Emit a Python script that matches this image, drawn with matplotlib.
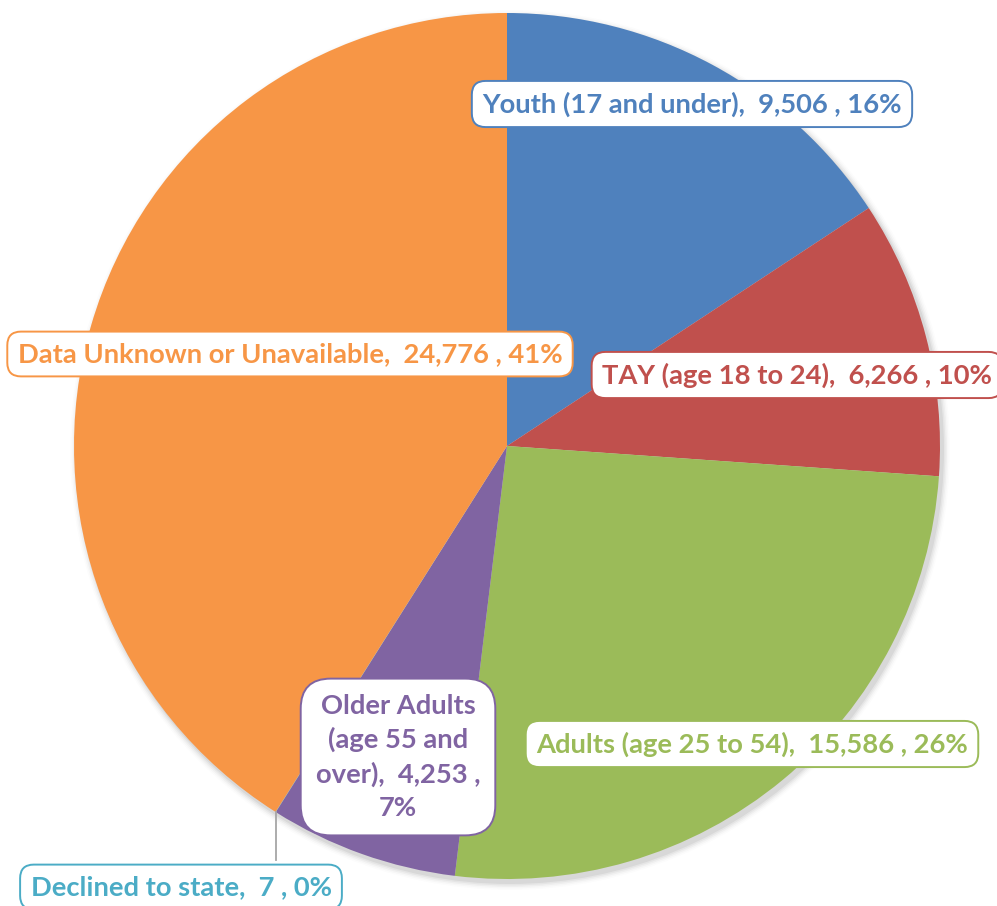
import matplotlib
matplotlib.use("Agg")
import matplotlib.pyplot as plt
from matplotlib.patches import Circle

# Client counts by age group
categories = [
    "Youth (17 and under)",
    "TAY (age 18 to 24)",
    "Adults (age 25 to 54)",
    "Older Adults\n(age 55 and\nover)",
    "Declined to state",
    "Data Unknown or Unavailable",
]
counts = [9506, 6266, 15586, 4253, 7, 24776]
colors = ["#4F81BD", "#C0504D", "#9BBB59", "#8064A2", "#4BACC6", "#F79646"]

W, H = 997, 906
fig = plt.figure(figsize=(W / 100, H / 100), dpi=100)
ax = fig.add_axes([0, 0, 1, 1])

cx, cy, r = 507, H - 446, 433

# soft drop shadow under the pie
for i, a in enumerate([0.05, 0.04, 0.03, 0.02, 0.01]):
    ax.add_patch(Circle((cx + 3, cy - 4), r + 1 + i * 1.5, color="black",
                        alpha=a, lw=0, zorder=0))

wedges, _ = ax.pie(counts, colors=colors, startangle=90, counterclock=False,
                   center=(cx, cy), radius=r,
                   wedgeprops=dict(linewidth=0, zorder=1))

ax.set_xlim(0, W)
ax.set_ylim(0, H)
ax.set_aspect("equal")
ax.axis("off")

total = sum(counts)
pcts = [round(100 * c / total) for c in counts]

# label box centres (x, y from top)
label_pos = [(692, 104), (797, 375), (752, 744), (398, 757), (181, 887), (290, 354)]

font = dict(family=["Lato", "DejaVu Sans"], weight="bold", size=19.7)
for cat, cnt, pct, col, (lx, ly) in zip(categories, counts, pcts, colors, label_pos):
    if cat.startswith("Older"):
        txt = f"Older Adults\n(age 55 and\nover),  {cnt:,} ,\n{pct}%"
        style = "round,pad=0.55,rounding_size=1.1"
    else:
        txt = f"{cat},  {cnt:,} , {pct}%"
        style = "round,pad=0.38,rounding_size=0.5"
    ax.text(lx, H - ly, txt, ha="center", va="center", color=col,
            linespacing=1.45, zorder=5, fontdict=font,
            bbox=dict(boxstyle=style, fc="white", ec=col, lw=1.4))

# leader line to the "Declined to state" label
ax.plot([276, 276], [H - 812, H - 860], color="#A6A6A6", lw=1.3, zorder=3)

fig.savefig("out.png", dpi=100)
